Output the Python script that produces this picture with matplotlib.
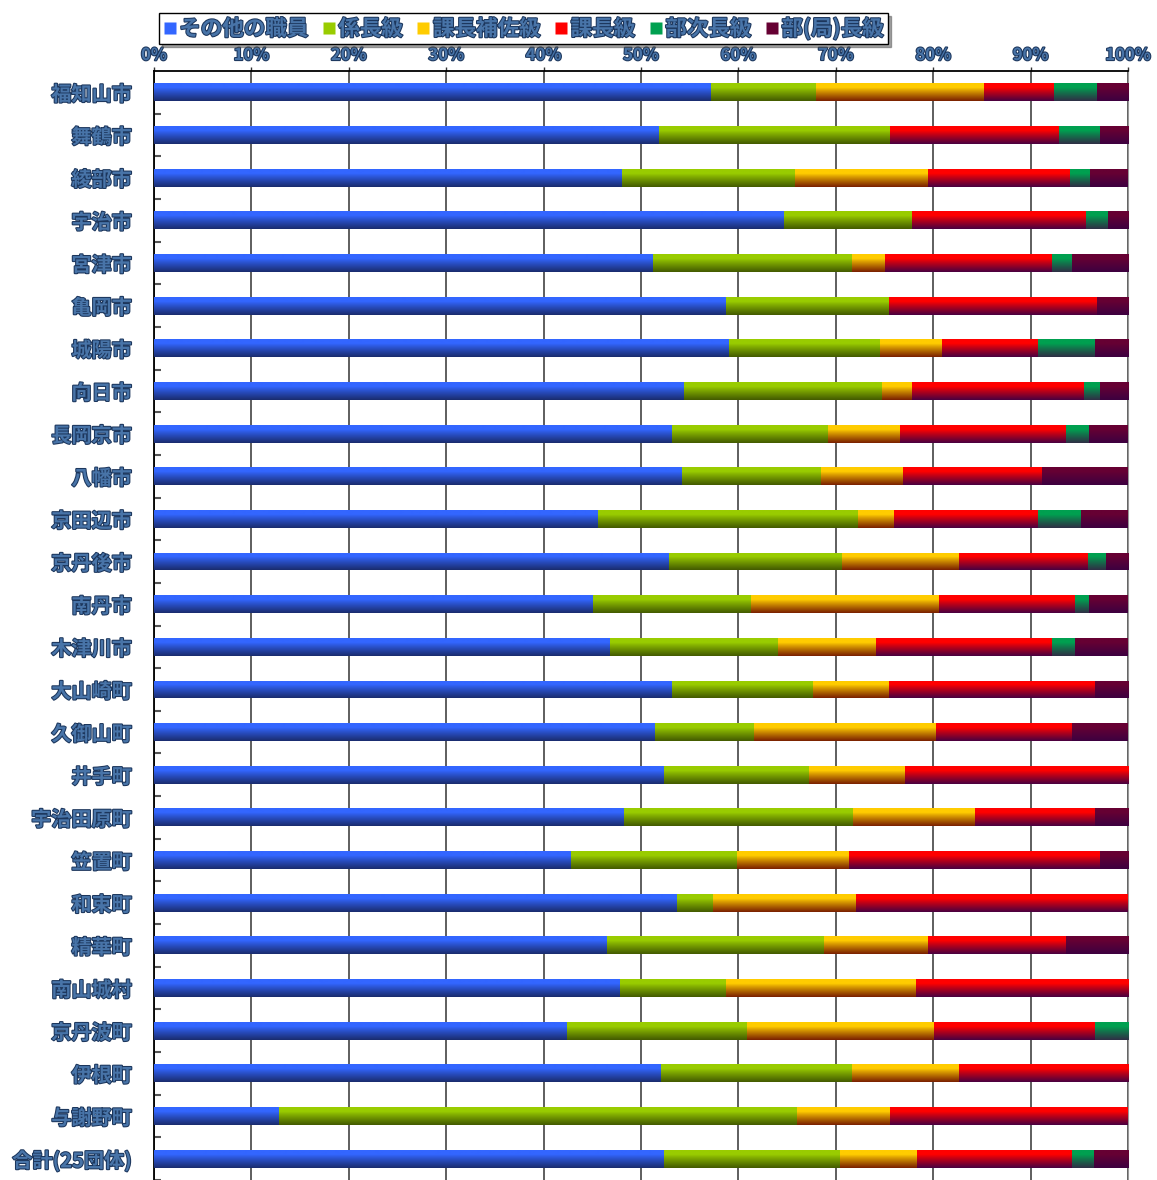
import matplotlib
matplotlib.use('Agg')
import matplotlib.pyplot as plt
import numpy as np
from matplotlib import patheffects as pe
from matplotlib.colors import to_rgb
from matplotlib.lines import Line2D

plt.rcParams['font.family'] = ['Noto Sans CJK JP', 'DejaVu Sans']

categories = ['福知山市', '舞鶴市', '綾部市', '宇治市', '宮津市', '亀岡市', '城陽市', '向日市',
              '長岡京市', '八幡市', '京田辺市', '京丹後市', '南丹市', '木津川市', '大山崎町',
              '久御山町', '井手町', '宇治田原町', '笠置町', '和束町', '精華町', '南山城村',
              '京丹波町', '伊根町', '与謝野町', '合計(25団体)']
series_names = ['その他の職員', '係長級', '課長補佐級', '課長級', '部次長級', '部(局)長級']

other   = [57.2, 51.8, 48.0, 64.7, 51.2, 58.7, 59.0, 54.4, 53.2, 54.2, 45.6, 52.9, 45.1,
           46.8, 53.2, 51.4, 52.4, 48.3, 42.8, 53.7, 46.5, 47.8, 42.4, 52.1, 12.8, 52.4]
kakari  = [10.8, 23.8, 17.8, 13.1, 20.5, 16.8, 15.5, 20.3, 16.0, 14.3, 26.7, 17.7, 16.2,
           17.3, 14.5, 10.2, 14.8, 23.5, 17.1, 3.7, 22.3, 10.9, 18.5, 19.6, 53.2, 18.0]
hosa    = [17.2, 0.0, 13.7, 0.0, 3.3, 0.0, 6.4, 3.1, 7.4, 8.4, 3.7, 12.0, 19.3,
           10.0, 7.8, 18.7, 9.9, 12.5, 11.5, 14.7, 10.7, 19.5, 19.2, 10.9, 9.6, 7.9]
kacho   = [7.2, 17.3, 14.5, 17.9, 17.2, 21.3, 9.9, 17.7, 17.0, 14.3, 14.8, 13.3, 14.0,
           18.1, 21.1, 14.0, 22.9, 12.3, 25.7, 27.9, 14.1, 21.8, 16.5, 17.4, 24.4, 16.0]
bujicho = [4.4, 4.2, 2.1, 2.2, 2.0, 0.0, 5.8, 1.6, 2.4, 0.0, 4.4, 1.8, 1.4,
           2.4, 0.0, 0.0, 0.0, 0.0, 0.0, 0.0, 0.0, 0.0, 3.4, 0.0, 0.0, 2.2]
bucho   = [3.2, 2.9, 3.9, 2.1, 5.8, 3.2, 3.4, 2.9, 4.0, 8.8, 4.8, 2.3, 4.0,
           5.4, 3.4, 5.7, 0.0, 3.4, 2.9, 0.0, 6.4, 0.0, 0.0, 0.0, 0.0, 3.5]
xtick_labels = ['0%', '10%', '20%', '30%', '40%', '50%', '60%', '70%', '80%', '90%', '100%']

series = [other, kakari, hosa, kacho, bujicho, bucho]
top_colors = ['#3366FF', '#99CC00', '#FFCC00', '#FF0000', '#00A050', '#660033']
bot_colors = ['#1A2C6E', '#435A00', '#7A2000', '#4A0040', '#2F2F45', '#3D0040']

data = np.array(series, dtype=float)
data = data / data.sum(axis=0) * 100.0

fig = plt.figure(figsize=(11.57, 11.80), dpi=100)
ax = fig.add_axes([154/1157, 0.0, (1128-154)/1157, 1 - 71/1180])

y = np.arange(len(categories))
bar_h = 0.42

def gradient(top, bot, n=64):
    t = np.linspace(0, 1, n)
    f = np.clip((t - 0.25) / 0.75, 0, 1) ** 0.9
    a = np.array(to_rgb(top)); b = np.array(to_rgb(bot))
    g = a[None, :] * (1 - f[:, None]) + b[None, :] * f[:, None]
    return g[:, None, :]

left = np.zeros(len(categories))
for k, vals in enumerate(data):
    bars = ax.barh(y, vals, left=left, height=bar_h, color=top_colors[k],
                   edgecolor='none', zorder=3)
    grad = gradient(top_colors[k], bot_colors[k])
    for b in bars:
        if b.get_width() <= 0:
            continue
        x0, y0 = b.get_x(), b.get_y()
        x1, y1 = x0 + b.get_width(), y0 + b.get_height()
        im = ax.imshow(grad, extent=(x0, x1, y1, y0), origin='upper',
                       aspect='auto', interpolation='bilinear', zorder=4)
        im.set_clip_path(b)
    left = left + vals

ax.set_xlim(0, 100)
ax.set_ylim(len(categories) - 0.5, -0.5)

ax.xaxis.tick_top()
ax.set_xticks(np.arange(0, 101, 10))
txt_effects = [pe.withStroke(linewidth=1.5, foreground='#1C365C')]
ax.set_xticklabels(xtick_labels, fontsize=12, fontweight='bold', color='#4874A8')
for lab in ax.get_xticklabels():
    lab.set_path_effects(txt_effects)
ax.tick_params(axis='x', which='major', length=3, width=1, color='#333333', pad=2)

ax.set_yticks(y)
ax.set_yticklabels(categories, fontsize=14.5, fontweight='bold', color='#4874A8')
for lab in ax.get_yticklabels():
    lab.set_path_effects(txt_effects)
ax.set_yticks(np.arange(len(categories)) + 0.5, minor=True)
ax.tick_params(axis='y', which='major', length=0, pad=16)
ax.tick_params(axis='y', which='minor', length=5, width=1.5, direction='in', color='#555555')

ax.grid(axis='x', color='#333333', linewidth=1.1, zorder=1)
ax.set_axisbelow(True)
for side in ['top', 'left']:
    ax.spines[side].set_color('black')
    ax.spines[side].set_linewidth(1.3)
ax.spines['right'].set_color('#999999')
ax.spines['bottom'].set_visible(False)

handles = [Line2D([], [], linestyle='none', marker='s', markersize=8,
                  markerfacecolor=c, markeredgecolor='none') for c in top_colors]
leg = fig.legend(handles, series_names, loc='upper left',
                 bbox_to_anchor=(148/1157, 1 - 2/1180), ncol=6,
                 frameon=True, fancybox=False, shadow=True,
                 handlelength=0.6, handletextpad=0.15, columnspacing=0.65,
                 borderpad=0.2, prop={'size': 15.5, 'weight': 'bold'})
leg.get_frame().set_edgecolor('black')
leg.get_frame().set_linewidth(1.0)
for t in leg.get_texts():
    t.set_color('#4874A8')
    t.set_path_effects(txt_effects)

fig.savefig('out.png', dpi=100)
